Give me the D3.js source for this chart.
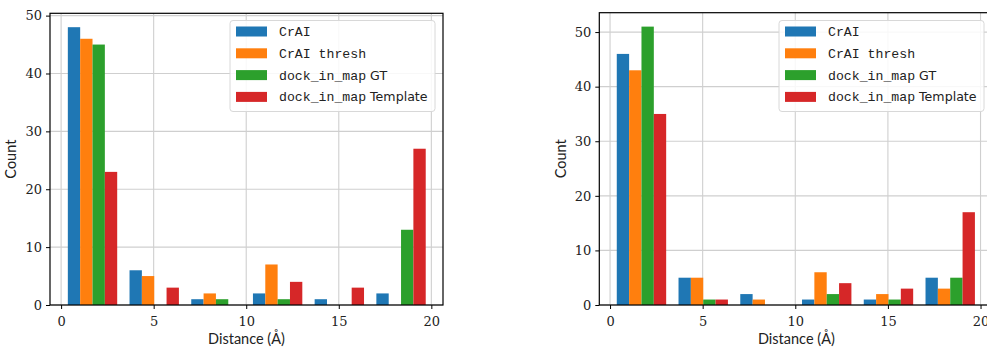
<!DOCTYPE html>
<html><head><meta charset="utf-8">
<script src="https://cdn.jsdelivr.net/npm/d3@7"></script>
<style>
html,body{margin:0;padding:0;background:#fff;}
svg{display:block;}
.tick text{font-family:"DejaVu Serif","Liberation Serif",serif;font-size:13px;fill:#222;}
.lab{font-family:"Lato","Open Sans",sans-serif;font-size:14.5px;fill:#222;}
.leg{font-size:13.2px;fill:#222;}
.mono{font-family:"Liberation Mono","DejaVu Sans Mono",monospace;}
.sans{font-family:"DejaVu Sans","Lato",sans-serif;font-size:12.6px;}
</style></head><body>
<svg id="chart" width="987" height="347"></svg>
<script>
const seriesNames = ["CrAI", "CrAI thresh", "dock_in_map GT", "dock_in_map Template"];
const colors = ["#1f77b4", "#ff7f0e", "#2ca02c", "#d62728"];
const binEdges = [0.03, 3.363, 6.697, 10.03, 13.363, 16.697, 20.03];
const leftCrAI     = [48, 6, 1, 2, 1, 2];
const leftThresh   = [46, 5, 2, 7, 0, 0];
const leftGT       = [45, 0, 1, 1, 0, 13];
const leftTemplate = [23, 3, 0, 4, 3, 27];
const rightCrAI     = [46, 5, 2, 1, 1, 5];
const rightThresh   = [43, 5, 1, 6, 2, 3];
const rightGT       = [51, 1, 0, 2, 1, 5];
const rightTemplate = [35, 1, 0, 4, 3, 17];
const xTicks = [0, 5, 10, 15, 20];
const yTicks = [0, 10, 20, 30, 40, 50];
const xLabel = "Distance (Å)";
const yLabel = "Count";

const svg = d3.select("#chart");

function panel(cfg) {
  const g = svg.append("g");
  const x = d3.scaleLinear().domain(cfg.xlim).range([cfg.left, cfg.right]);
  const y = d3.scaleLinear().domain(cfg.ylim).range([cfg.bottom, cfg.top]);
  // grid
  g.append("g").selectAll("line.gx").data(xTicks).join("line")
    .attr("x1", d => x(d)).attr("x2", d => x(d))
    .attr("y1", cfg.top).attr("y2", cfg.bottom)
    .attr("stroke", "#cfcfcf").attr("stroke-width", 1.1);
  g.append("g").selectAll("line.gy").data(yTicks).join("line")
    .attr("y1", d => y(d)).attr("y2", d => y(d))
    .attr("x1", cfg.left).attr("x2", cfg.right)
    .attr("stroke", "#cfcfcf").attr("stroke-width", 1.1);
  // bars
  const nS = cfg.series.length;
  cfg.series.forEach((vals, si) => {
    g.append("g").selectAll("rect").data(vals).join("rect")
      .attr("x", (d, i) => { const a = binEdges[i], w = binEdges[i+1] - a; return x(a + 0.1*w + si*0.8*w/nS); })
      .attr("width", (d, i) => { const a = binEdges[i], w = binEdges[i+1] - a; return x(a + 0.8*w/nS) - x(a); })
      .attr("y", d => y(d))
      .attr("height", d => y(0) - y(d))
      .attr("fill", colors[si]);
  });
  // axes
  const xa = g.append("g").attr("transform", `translate(0,${cfg.bottom})`)
    .call(d3.axisBottom(x).tickValues(xTicks).tickSize(4).tickPadding(5).tickFormat(d3.format("d")));
  const ya = g.append("g").attr("transform", `translate(${cfg.left},0)`)
    .call(d3.axisLeft(y).tickValues(yTicks).tickSize(4).tickPadding(4).tickFormat(d3.format("d")));
  [xa, ya].forEach(a => { a.select(".domain").remove(); a.selectAll(".tick line").attr("stroke", "#000").attr("stroke-width", 1); });
  xa.selectAll(".tick text").attr("dy", "0.95em");
  // spines
  g.append("rect").attr("x", cfg.left).attr("y", cfg.top)
    .attr("width", cfg.right - cfg.left).attr("height", cfg.bottom - cfg.top)
    .attr("fill", "none").attr("stroke", "#000").attr("stroke-width", 1.2);
  // labels
  g.append("text").attr("class", "lab").attr("text-anchor", "middle")
    .attr("x", (x(cfg.xlim[0]) + x(cfg.xlim[1])) / 2).attr("y", 344).text(xLabel);
  g.append("text").attr("class", "lab").attr("text-anchor", "middle")
    .attr("transform", `translate(${cfg.ylabX},${(cfg.top + cfg.bottom) / 2}) rotate(-90)`).text(yLabel);
  // legend
  const L = g.append("g").attr("transform", `translate(${cfg.legX},20.5)`);
  L.append("rect").attr("width", 205).attr("height", 91).attr("rx", 3)
    .attr("fill", "rgba(255,255,255,0.85)").attr("stroke", "#d8d8d8").attr("stroke-width", 1);
  seriesNames.forEach((name, i) => {
    const ry = 11 + i * 21.8;
    L.append("rect").attr("x", 6).attr("y", ry - 5).attr("width", 31).attr("height", 10).attr("fill", colors[i]);
    const t = L.append("text").attr("class", "leg").attr("x", 49).attr("y", ry + 4.5);
    const parts = name.split(" ");
    if (name.startsWith("dock_in_map")) {
      t.append("tspan").attr("class", "mono").text(parts[0]);
      t.append("tspan").attr("class", "sans").text(" " + parts.slice(1).join(" "));
    } else {
      t.append("tspan").attr("class", "mono").text(name);
    }
  });
}

panel({ left: 50, right: 443, top: 13.3, bottom: 305, xlim: [-0.6, 20.63], ylim: [0, 50.4],
  ylabX: 16, legX: 230,
  series: [leftCrAI, leftThresh, leftGT, leftTemplate] });
panel({ left: 599.3, right: 993.5, top: 12.7, bottom: 305, xlim: [-0.58, 20.7], ylim: [0, 53.55],
  ylabX: 566, legX: 779,
  series: [rightCrAI, rightThresh, rightGT, rightTemplate] });
</script>
</body></html>
